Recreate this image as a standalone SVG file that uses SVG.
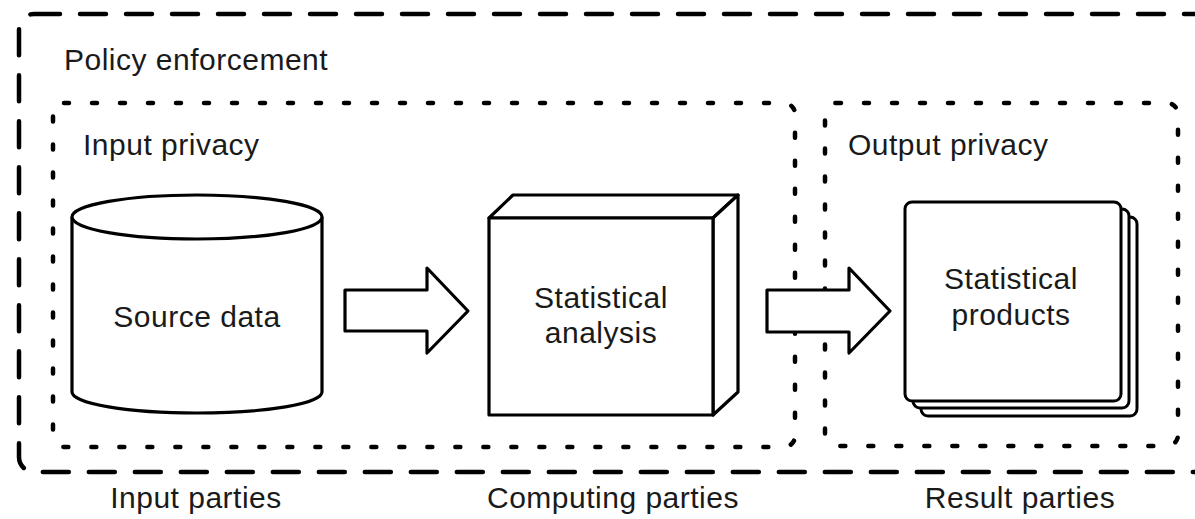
<svg xmlns="http://www.w3.org/2000/svg" width="1195" height="519" viewBox="0 0 1195 519">
  <style>
    .lbl { font-family: "Liberation Sans", Arial, Helvetica, sans-serif; font-size: 30px; fill: #1a1a1a; letter-spacing: 0.5px; }
    .mid { text-anchor: middle; }
    .outer { fill: none; stroke: #000; stroke-width: 4.5; stroke-dasharray: 26 20; stroke-linecap: round; }
    .dotted { fill: none; stroke: #000; stroke-width: 4.5; stroke-dasharray: 5 23; stroke-linecap: round; }
    .shape { fill: #fff; stroke: #000; stroke-width: 3.2; stroke-linejoin: round; }
    .page { fill: #fff; stroke: #000; stroke-width: 3; }
  </style>
  <rect width="1195" height="519" fill="#fff"/>

  <g id="policy-enforcement">
    <rect class="outer" x="19" y="14" width="1190" height="458" rx="15"/>
    <text class="lbl" x="64" y="70">Policy enforcement</text>
  </g>

  <g id="input-privacy">
    <rect class="dotted" x="53" y="103" width="742" height="344" rx="11"/>
    <text class="lbl" x="83" y="155">Input privacy</text>
  </g>

  <g id="output-privacy">
    <rect class="dotted" x="825" y="103" width="353" height="343" rx="11"/>
    <text class="lbl" x="848" y="155">Output privacy</text>
  </g>

  <g id="source-data">
    <path class="shape" d="M72,217 L72,392 A125,21 0 0 0 322,392 L322,217"/>
    <ellipse class="shape" cx="197" cy="217" rx="125" ry="22"/>
    <text class="lbl mid" x="197" y="327">Source data</text>
  </g>

  <g id="statistical-analysis">
    <polygon class="shape" points="489,218 513,195 738,195 713,218"/>
    <polygon class="shape" points="713,218 738,195 738,392 713,415"/>
    <rect class="shape" x="489" y="218" width="224" height="197"/>
    <text class="lbl mid" x="601" y="308">Statistical</text>
    <text class="lbl mid" x="601" y="343">analysis</text>
  </g>

  <g id="statistical-products">
    <rect class="page" x="921" y="217" width="216" height="199" rx="7"/>
    <rect class="page" x="913" y="209" width="216" height="199" rx="7"/>
    <rect class="page" x="905" y="202" width="216" height="199" rx="7"/>
    <text class="lbl mid" x="1011" y="289">Statistical</text>
    <text class="lbl mid" x="1011" y="325">products</text>
  </g>

  <g id="connectors">
    <polygon class="shape" points="345,290 427,290 427,268 468,311 427,353 427,331 345,331"/>
    <polygon class="shape" points="767,290 849,290 849,268 890,311 849,353 849,332 767,332"/>
  </g>

  <g id="party-labels">
    <text class="lbl mid" x="196" y="508">Input parties</text>
    <text class="lbl mid" x="613" y="508">Computing parties</text>
    <text class="lbl mid" x="1020" y="508">Result parties</text>
  </g>
</svg>
